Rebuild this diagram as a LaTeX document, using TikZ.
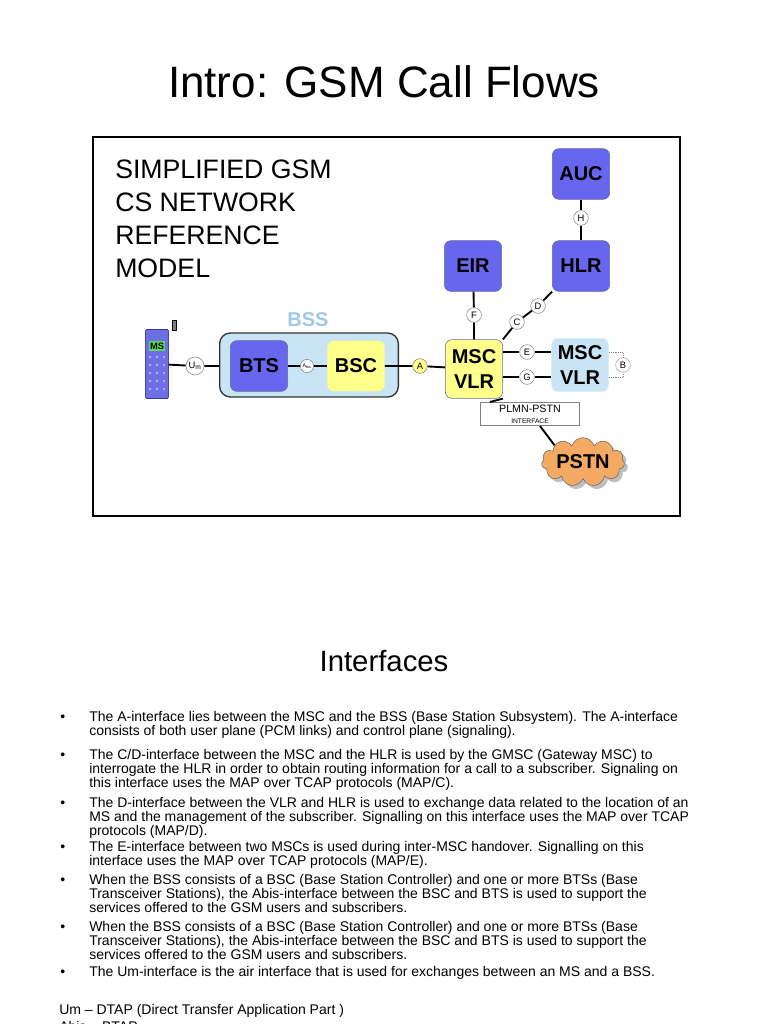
\documentclass[tikz,border=0pt]{standalone}
\usepackage{fontspec}
\setmainfont{Liberation Sans}
\usetikzlibrary{shapes.symbols,shadows}
\begin{document}
\begin{tikzpicture}[x=0.75pt,y=-0.75pt,
 box/.style={draw=blue!40!black!60,rounded corners=5pt,minimum width=43pt,minimum height=38pt,font=\bfseries\fontsize{15}{15}\selectfont},
 blu/.style={box,fill={rgb,255:red,102;green,102;blue,238}},
 ifc/.style={circle,draw=gray,fill=white,inner sep=0.8pt,minimum size=11pt,font=\fontsize{7}{7}\selectfont},
 ln/.style={line width=1.4pt},
 body/.style={anchor=base west,font=\fontsize{10.5}{10.5}\selectfont,inner sep=0}]
\useasboundingbox (0,0) rectangle (768,1024);
\node (title) at (384,82) {\fontsize{33}{33}\selectfont Intro: GSM Call Flows};
\draw[line width=0.8pt] (93,137) rectangle (680,516);
\node[anchor=north west,align=left,font=\fontsize{20}{24.75}\selectfont,inner sep=0] (lbl) at (115,160) {SIMPLIFIED GSM\\CS NETWORK\\REFERENCE\\MODEL};
% nodes
\node[blu] (auc) at (581,174) {AUC};
\node[blu] (hlr) at (581,266) {HLR};
\node[blu] (eir) at (473,266) {EIR};
\node[box,fill={rgb,255:red,255;green,255;blue,140},minimum height=44pt,align=center,font=\bfseries\fontsize{15}{19}\selectfont] (msc) at (474,369) {MSC\\VLR};
\node[box,fill={rgb,255:red,200;green,228;blue,245},draw=none,minimum height=40pt,align=center,font=\bfseries\fontsize{15}{19}\selectfont] (msc2) at (580,365) {MSC\\VLR};
\node[draw=black!80,line width=1pt,rounded corners=8pt,fill={rgb,255:red,200;green,228;blue,245},minimum width=134pt,minimum height=48pt] (bss) at (309,365) {};
\node[font=\bfseries\fontsize{15}{15}\selectfont,text={rgb,255:red,160;green,200;blue,235}] (bsslbl) at (308,320) {BSS};
\node[blu] (bts) at (259,366) {BTS};
\node[box,draw=none,fill={rgb,255:red,255;green,255;blue,140}] (bsc) at (356,366) {BSC};
% phone
\draw[fill=gray] (172,320) rectangle (176,330);
\node[draw=blue!50!black,fill={rgb,255:red,110;green,110;blue,230},rounded corners=1pt,minimum width=17pt,minimum height=52pt,inner sep=0] (ms) at (157,364) {};
\node[fill={rgb,255:red,90;green,220;blue,90},font=\bfseries\fontsize{7}{7}\selectfont,inner sep=1pt] (mst) at (157,346) {MS};
\foreach \i in {0,...,4}{\foreach \j in {0,1,2}{\fill[white!80!blue] (150+\j*7,357+\i*8) circle (1.2);}}
% links
\node[ifc] (um) at (195,366) {U\textsubscript{m}};
\node[ifc,minimum size=9pt,font=\fontsize{4}{4}\selectfont] (abis) at (307,366) {A\textsubscript{bis}};
\node[ifc,fill={rgb,255:red,255;green,255;blue,140}] (a) at (420,366) {A};
\draw[ln] (ms) -- (um) -- (bss.west |- um);
\draw[ln] (bts) -- (abis) -- (bsc);
\draw[ln] (bsc) -- (a) -- (msc);
\node[ifc] (h) at (581,218) {H};
\draw[ln] (auc) -- (h) -- (hlr);
\node[ifc] (f) at (474,315) {F};
\draw[ln] (eir) -- (f) -- (msc);
\node[ifc] (c) at (517,322) {C};
\node[ifc] (d) at (538,306) {D};
\draw[ln] (msc.north east) -- (c) -- (d) -- (hlr.south west);
\node[ifc] (e) at (527,352) {E};
\node[ifc] (g) at (527,377) {G};
\draw[ln] (msc.east |- e) -- (e) -- (msc2.west |- e);
\draw[ln] (msc.east |- g) -- (g) -- (msc2.west |- g);
\node[ifc,draw=gray!70] (b) at (623,365) {B};
\draw[densely dotted,gray] (msc2.east |- e) -| (b.north);
\draw[densely dotted,gray] (msc2.east |- g) -| (b.south);
\node[draw=gray,fill=white,align=center,inner sep=2pt,minimum width=74pt,font=\fontsize{8}{9}\selectfont] (plmn) at (530,414) {PLMN-PSTN\\[-1pt]{\fontsize{5}{5}\selectfont INTERFACE}};
\node[cloud,cloud puffs=11,aspect=2.4,draw=black!60,fill={rgb,255:red,245;green,170;blue,100},drop shadow,font=\bfseries\fontsize{15}{15}\selectfont,inner sep=1pt] (pstn) at (583,462) {PSTN};
\draw[ln] (msc.south east) -- (plmn.north west -| 490,0);
\draw[ln] (plmn.south) ++(10,0) coordinate (ps) -- (pstn.north west);
% text
\node (intf) at (384,661) {\fontsize{22}{22}\selectfont Interfaces};
\foreach \y/\t in {721/{The A-interface lies between the MSC and the BSS (Base Station Subsystem). The A-interface},
735/{consists of both user plane (PCM links) and control plane (signaling).},
759/{The C/D-interface between the MSC and the HLR is used by the GMSC (Gateway MSC) to},
773/{interrogate the HLR in order to obtain routing information for a call to a subscriber. Signaling on},
787/{this interface uses the MAP over TCAP protocols (MAP/C).},
807/{The D-interface between the VLR and HLR is used to exchange data related to the location of an},
821/{MS and the management of the subscriber. Signalling on this interface uses the MAP over TCAP},
835/{protocols (MAP/D).},
851/{The E-interface between two MSCs is used during inter-MSC handover. Signalling on this},
865/{interface uses the MAP over TCAP protocols (MAP/E).},
884/{When the BSS consists of a BSC (Base Station Controller) and one or more BTSs (Base},
898/{Transceiver Stations), the Abis-interface between the BSC and BTS is used to support the},
912/{services offered to the GSM users and subscribers.},
931/{When the BSS consists of a BSC (Base Station Controller) and one or more BTSs (Base},
945/{Transceiver Stations), the Abis-interface between the BSC and BTS is used to support the},
959/{services offered to the GSM users and subscribers.},
976/{The Um-interface is the air interface that is used for exchanges between an MS and a BSS.}}
{\node[body] at (89,\y) {\t};}
\foreach \y in {721,759,807,851,884,931,976}{\node[body] at (60,\y) {•};}
\node[body] at (59,1014) {Um – DTAP (Direct Transfer Application Part )};
\node[body] at (59,1031) {Abis – BTAP};
\end{tikzpicture}
\end{document}
